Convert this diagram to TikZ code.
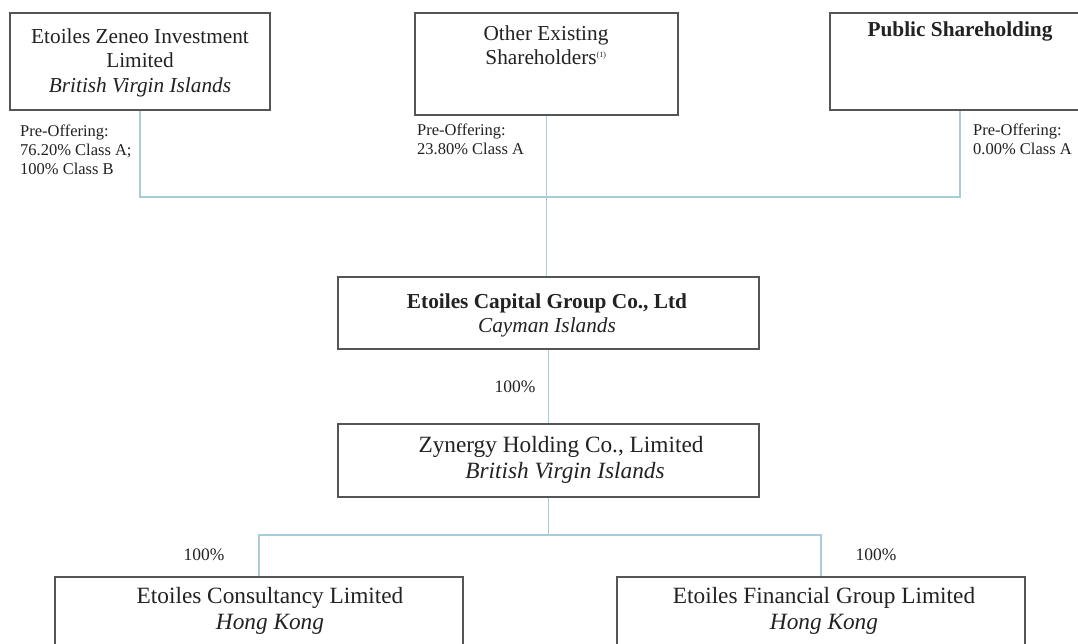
\documentclass[tikz,border=0pt]{standalone}
\usepackage{fontspec}
\setmainfont{Liberation Serif}
\definecolor{boxline}{HTML}{555555}
\definecolor{conn}{HTML}{A8CCDA}
\definecolor{txt}{HTML}{222222}
\tikzset{
  box/.style={draw=boxline, line width=1.3pt, fill=white, rectangle, inner sep=0pt},
  connline/.style={draw=conn, line width=1.3pt},
  bigtxt/.style={text=txt, align=center, inner sep=0pt, font=\fontsize{23.3}{26.5}\selectfont},
  toptxt/.style={text=txt, align=center, inner sep=0pt, font=\fontsize{21.3}{24.5}\selectfont},
  lbl/.style={text=txt, align=left, inner sep=0pt, anchor=north west, font=\fontsize{16.5}{19}\selectfont},
  pct/.style={text=txt, inner sep=0pt, font=\fontsize{17.5}{20}\selectfont},
}
\begin{document}
\begin{tikzpicture}[x=1pt,y=-1pt]
\clip (0,0) rectangle (1078,643);
\fill[white] (0,0) rectangle (1078,643);
% top boxes
\node[box, minimum width=260pt, minimum height=97pt] (zeneo) at (140,61.5) {};
\node[box, minimum width=263pt, minimum height=102pt] (other) at (546.5,64) {};
\node[box, minimum width=260pt, minimum height=97pt] (public) at (960,61.5) {};
\coordinate (j1) at (546.5,197);
\draw[connline] (zeneo.south) |- (j1) -| (public.south);
% middle boxes
\node[box, minimum width=421pt, minimum height=72pt] (cap) at (548.5,313) {};
\node[box, minimum width=421pt, minimum height=73pt] (zyn) at (548.5,460.5) {};
\draw[connline] (other.south) -- (other.south |- cap.north);
\draw[connline] (cap.south) -- (zyn.north);
% bottom boxes
\node[box, minimum width=408pt, minimum height=140pt] (cons) at (259,647) {};
\node[box, minimum width=408pt, minimum height=140pt] (fin) at (821,647) {};
\coordinate (j2) at (548.5,535);
\draw[connline] (zyn.south) -- (j2);
\draw[connline] (cons.north) |- (j2) -| (fin.north);
% texts
\node[toptxt, anchor=north] (zeneot) at (140,28.3) {Etoiles Zeneo Investment\\Limited\\\textit{British Virgin Islands}};
\node[toptxt, anchor=north] (othert) at (546,25.3) {Other Existing\\Shareholders\textsuperscript{\fontsize{8}{8}\selectfont(1)}};
\node[toptxt, anchor=north] (publict) at (960,21.5) {\textbf{Public Shareholding}};
\node[lbl] (l1) at (20,125) {Pre-Offering:\\76.20\% Class A;\\100\% Class B};
\node[lbl] (l2) at (417,124) {Pre-Offering:\\23.80\% Class A};
\node[lbl] (l3) at (973,124) {Pre-Offering:\\0.00\% Class A};
\node[toptxt, anchor=north] (capt) at (547,293.5) {\textbf{Etoiles Capital Group Co., Ltd}\\\textit{Cayman Islands}};
\node[pct, anchor=base] (p1) at (515,392) {100\%};
\node[bigtxt, anchor=north] (zynt) at (561,436) {Zynergy Holding Co., Limited\\\hspace*{8pt}\textit{British Virgin Islands}};
\node[pct, anchor=base] (p2) at (204,560) {100\%};
\node[pct, anchor=base] (p3) at (876,560) {100\%};
\node[bigtxt, anchor=north] (const) at (270,587) {Etoiles Consultancy Limited\\\textit{Hong Kong}};
\node[bigtxt, anchor=north] (fint) at (824,587) {Etoiles Financial Group Limited\\\textit{Hong Kong}};
\end{tikzpicture}
\end{document}
